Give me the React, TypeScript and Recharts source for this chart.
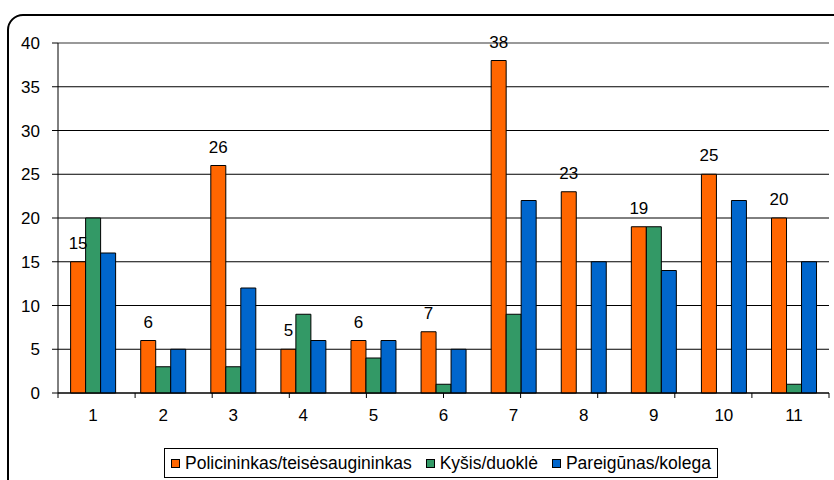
import React from 'react';
import { BarChart, Bar, XAxis, YAxis, CartesianGrid, Legend, LabelList, ReferenceLine } from 'recharts';

const categories = ['1', '2', '3', '4', '5', '6', '7', '8', '9', '10', '11'];
const policininkas = [15, 6, 26, 5, 6, 7, 38, 23, 19, 25, 20];
const kysis = [20, 3, 3, 9, 4, 1, 9, 0, 19, 0, 1];
const pareigunas = [16, 5, 12, 6, 6, 5, 22, 15, 14, 22, 15];
const yTicks = [0, 5, 10, 15, 20, 25, 30, 35, 40];
const edgeTicks = [0, 1, 2, 3, 4, 5, 6, 7, 8, 9, 10, 11];
const seriesNames = ['Policininkas/teisėsaugininkas', 'Kyšis/duoklė', 'Pareigūnas/kolega'];
const colors = ['#FF6600', '#339966', '#0066CC'];

const data = categories.map((c, i) => ({
  name: c,
  a: policininkas[i],
  b: kysis[i],
  c: pareigunas[i],
}));

const FONT = '"Liberation Sans", Arial, sans-serif';
const EDGE = 'aEdge';
const CAT = 'zCat';

const LegendBox = () => (
  <div
    style={{
      border: '1px solid #000',
      background: '#fff',
      padding: '0 6px',
      display: 'flex',
      alignItems: 'center',
      fontFamily: FONT,
      fontSize: 17.5,
      color: '#000',
      whiteSpace: 'nowrap',
      height: 28,
    }}
  >
    {seriesNames.map((n, i) => (
      <span key={n} style={{ display: 'inline-flex', alignItems: 'center', marginRight: i < 2 ? 14 : 0 }}>
        <span
          style={{
            display: 'inline-block',
            width: 7,
            height: 7,
            background: colors[i],
            border: '1px solid #000',
            marginRight: 5,
          }}
        />
        {n}
      </span>
    ))}
  </div>
);

export default function App() {
  return (
    <div style={{ position: 'fixed', left: 0, top: 0, width: 834, height: 480, overflow: 'hidden', background: '#fff' }}>
      <div
        style={{
          position: 'absolute',
          left: 7,
          top: 14,
          width: 860,
          height: 520,
          border: '2px solid #000',
          borderRadius: 16,
          boxSizing: 'border-box',
        }}
      />
      <div style={{ position: 'absolute', left: 0, top: 0 }}>
        <BarChart
          width={834}
          height={480}
          data={data}
          margin={{ top: 43, right: 5, left: 0, bottom: 57 }}
          barCategoryGap="18%"
          barGap={0}
          style={{ fontFamily: FONT }}
        >
          <CartesianGrid xAxisId={CAT} vertical={false} stroke="#000" strokeWidth={1} />
          <XAxis
            xAxisId={EDGE}
            type="number"
            domain={[0, 11]}
            ticks={edgeTicks}
            tickFormatter={() => ''}
            tickLine={{ stroke: '#000' }}
            tickSize={5}
            axisLine={{ stroke: '#000' }}
            height={1}
            allowDataOverflow
          />
          <XAxis
            xAxisId={CAT}
            dataKey="name"
            axisLine={false}
            tickLine={false}
            tick={{ fill: '#000', fontSize: 17, fontFamily: FONT }}
            height={29}
            tickSize={6}
            tickMargin={9}
            interval={0}
          />
          <YAxis
            domain={[0, 40]}
            ticks={yTicks}
            width={58}
            axisLine={{ stroke: '#000' }}
            tickLine={{ stroke: '#000' }}
            tickSize={6}
            tick={{ fill: '#000', fontSize: 17, fontFamily: FONT }}
            tickMargin={12}
          />
          <ReferenceLine xAxisId={CAT} y={40} stroke="#999" strokeWidth={2} />
          <ReferenceLine xAxisId={EDGE} x={11} stroke="#999" strokeWidth={1} />
          <Bar xAxisId={CAT} dataKey="a" name={seriesNames[0]} fill={colors[0]} stroke="#000" strokeWidth={1} isAnimationActive={false}>
            <LabelList dataKey="a" position="top" offset={13} fill="#000" fontSize={17} fontFamily={FONT} />
          </Bar>
          <Bar xAxisId={CAT} dataKey="b" name={seriesNames[1]} fill={colors[1]} stroke="#000" strokeWidth={1} isAnimationActive={false} />
          <Bar xAxisId={CAT} dataKey="c" name={seriesNames[2]} fill={colors[2]} stroke="#000" strokeWidth={1} isAnimationActive={false} />
          <Legend
            verticalAlign="middle"
            layout="horizontal"
            content={() => <LegendBox />}
            wrapperStyle={{ position: 'absolute', left: 164, top: 448, width: 'auto' }}
          />
        </BarChart>
      </div>
    </div>
  );
}
